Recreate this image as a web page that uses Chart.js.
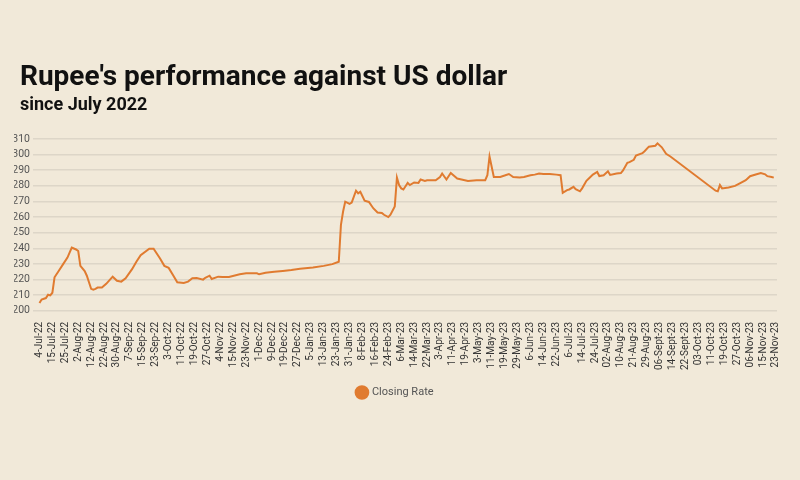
<!DOCTYPE html>
<html>
<head>
<meta charset="utf-8">
<script src="https://cdn.jsdelivr.net/npm/chart.js@4"></script>
<style>
  body { margin: 0; background: #f1e9d9; font-family: Roboto, sans-serif; }
  .wrap { position: relative; width: 800px; height: 480px; overflow: hidden; }
  .title { position: absolute; left: 20px; top: 59px; font-size: 28px; font-weight: 700; color: #111; }
  .subtitle { position: absolute; left: 20px; top: 93px; font-size: 18px; font-weight: 700; color: #111; }
  canvas { position: absolute; left: 0; top: 0; }
</style>
</head>
<body>
<div class="wrap">
  <canvas id="myChart" width="800" height="480"></canvas>
  <div class="title">Rupee's performance against US dollar</div>
  <div class="subtitle">since July 2022</div>
</div>
<script>
// one tick label every 6 trading days
const tickLabels = [
  '4-Jul-22', '15-Jul-22', '25-Jul-22', '2-Aug-22', '12-Aug-22', '22-Aug-22', '30-Aug-22',
  '7-Sep-22', '15-Sep-22', '23-Sep-22', '3-Oct-22', '11-Oct-22', '19-Oct-22', '27-Oct-22',
  '4-Nov-22', '15-Nov-22', '23-Nov-22', '1-Dec-22', '9-Dec-22', '19-Dec-22', '27-Dec-22',
  '5-Jan-23', '13-Jan-23', '23-Jan-23', '31-Jan-23', '8-Feb-23', '16-Feb-23', '24-Feb-23',
  '6-Mar-23', '14-Mar-23', '22-Mar-23', '3-Apr-23', '11-Apr-23', '19-Apr-23', '3-May-23',
  '11-May-23', '19-May-23', '29-May-23', '6-Jun-23', '14-Jun-23', '22-Jun-23', '6-Jul-23',
  '14-Jul-23', '24-Jul-23', '02-Aug-23', '10-Aug-23', '21-Aug-23', '29-Aug-23', '06-Sept-23',
  '14-Sept-23', '22-Sept-23', '03-Oct-23', '11-Oct-23', '19-Oct-23', '27-Oct-23', '06-Nov-23',
  '15-Nov-23', '23-Nov-23'
];
const labelStep = 6;

// trading day number (0 = 4-Jul-22)
const tradingDay = [
  0, 1, 3, 4, 5, 6, 7, 9, 11, 13, 15, 17, 18, 19, 21, 22, 23, 24, 25, 26, 27, 29,
  31, 34, 36, 38, 40, 43, 45, 47, 51, 53, 56, 58, 60, 62, 64, 67, 69, 71, 73, 76,
  77, 79, 80, 83, 85, 88, 93, 96, 101, 102, 105, 109, 113, 117, 121, 127, 132, 136,
  139, 140, 141, 142, 144, 145, 147, 148, 149, 151, 153, 155, 157, 159, 160, 162,
  163, 165, 166, 167, 168, 169, 170, 171, 172, 174, 176, 177, 179, 180, 184, 186,
  187, 189, 191, 194, 196, 199, 203, 207, 208, 209, 211, 214, 216, 218, 220, 223,
  225, 228, 230, 232, 234, 237, 240, 242, 243, 245, 246, 248, 249, 251, 252, 254,
  255, 257, 259, 260, 262, 264, 265, 268, 270, 271, 273, 274, 276, 277, 280, 281,
  283, 286, 287, 289, 291, 293, 314, 315, 316, 317, 320, 323, 325, 328, 330, 333,
  335, 337, 338, 340, 341
];
const closingRate = [
  205.0, 207.3, 208.2, 210.3, 209.9, 211.6, 221.5, 225.7, 229.9, 234.1, 240.5, 239.3, 238.3, 228.8, 225.5, 222.5, 218.3, 214.1, 213.6, 214.1, 214.9, 214.9,
  217.3, 221.9, 219.3, 218.7, 220.9, 226.7, 231.4, 235.6, 239.8, 239.8, 233.5, 228.8, 227.5, 223.0, 218.3, 217.9, 218.7, 220.9, 221.0, 220.0,
  221.2, 222.5, 220.4, 221.9, 221.7, 221.7, 223.4, 224.0, 224.0, 223.4, 224.4, 225.0, 225.5, 226.1, 226.9, 227.8, 228.8, 229.9,
  231.4, 255.0, 263.6, 269.9, 268.5, 269.3, 276.9, 275.2, 276.2, 270.5, 269.7, 265.7, 263.0, 262.6, 261.5, 260.0,
  261.5, 266.8, 285.3, 280.5, 278.4, 277.7, 279.8, 281.9, 280.5, 282.2, 281.9, 284.1, 283.2, 283.6, 283.6, 285.7,
  287.9, 284.1, 288.2, 284.7, 284.1, 283.2, 283.6, 283.6, 286.8, 298.8, 285.7, 285.7, 286.6, 287.6, 285.7, 285.3,
  285.7, 286.8, 287.2, 287.9, 287.6, 287.6, 287.2, 286.8, 275.6, 277.3, 277.7, 279.4, 277.9, 276.5, 278.4, 283.2,
  284.5, 287.2, 288.9, 286.3, 286.8, 289.3, 287.0, 287.9, 288.2, 289.9, 294.8, 295.2, 296.7, 299.4, 300.9, 302.2,
  305.1, 305.7, 307.2, 304.7, 300.5, 298.8, 276.9, 276.5, 280.5, 278.4, 279.0, 280.0, 281.5, 283.6, 286.2, 287.4,
  288.2, 287.4, 286.2, 285.7, 285.3
];
const yTicks = [200, 210, 220, 230, 240, 250, 260, 270, 280, 290, 300, 310];

const lineColor = '#e07b30';

let points = [];
for (let i = 0; i < tradingDay.length; i++) {
  points.push({ x: tradingDay[i], y: closingRate[i] });
}

var ctx = document.getElementById('myChart');
var myChart = new Chart(ctx, {
  type: 'line',
  data: {
    datasets: [
      {
        label: 'Closing Rate',
        data: points,
        borderColor: lineColor,
        backgroundColor: lineColor,
        borderWidth: 2,
        pointRadius: 0,
        tension: 0,
      },
    ],
  },
  options: {
    responsive: false,
    animation: false,
    layout: {
      // left padding keeps the legend centred where the original has it
      padding: { left: 14, right: 23, top: 139, bottom: 72 },
    },
    plugins: {
      legend: {
        position: 'bottom',
        labels: {
          usePointStyle: true,
          pointStyle: 'circle',
          boxWidth: 9,
          boxHeight: 9,
          color: '#555',
          font: { family: 'Roboto', size: 11 },
          padding: 14,
        },
      },
      tooltip: { enabled: false },
    },
    scales: {
      x: {
        type: 'linear',
        min: -3,
        max: 342.5,
        afterBuildTicks: (axis) => {
          axis.ticks = tickLabels.map((_, i) => ({ value: i * labelStep }));
        },
        ticks: {
          autoSkip: false,
          maxRotation: 90,
          minRotation: 90,
          padding: 3,
          color: '#333',
          font: { family: 'Roboto', size: 10 },
          callback: (value) => tickLabels[value / labelStep] || '',
        },
        grid: { display: false },
        border: { display: false },
      },
      y: {
        min: 200,
        max: 310,
        afterBuildTicks: (axis) => {
          axis.ticks = yTicks.map((v) => ({ value: v }));
        },
        afterFit: (axis) => { axis.width = 19; },
        ticks: {
          padding: 3,
          color: '#555',
          font: { family: 'Roboto', size: 10.5 },
        },
        grid: { color: '#ddd6c8', lineWidth: 1.5, drawTicks: false },
        border: { display: false },
      },
    },
  },
});
</script>
</body>
</html>
